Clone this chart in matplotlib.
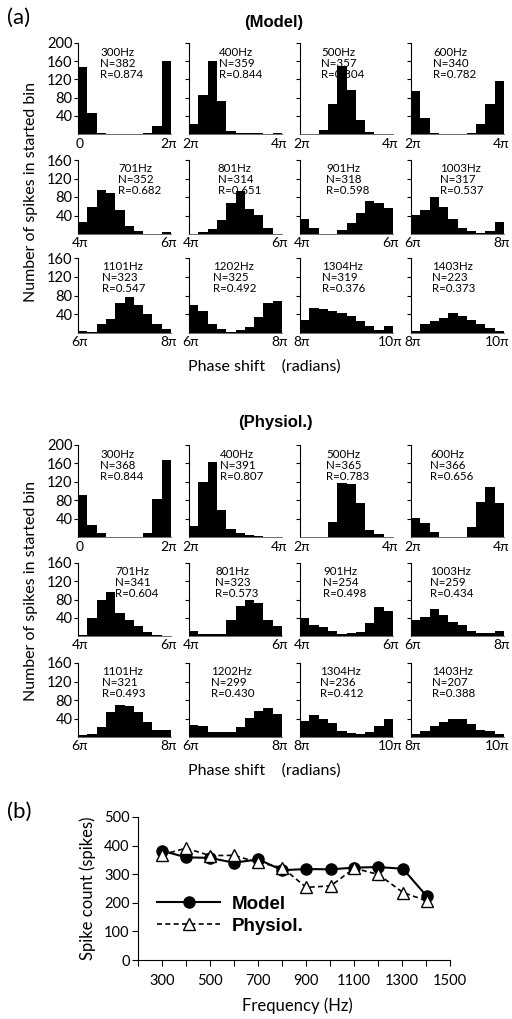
import numpy as np
import matplotlib.pyplot as plt

# ---- data ----
freqs = [300, 400, 500, 600, 701, 801, 901, 1003, 1101, 1202, 1304, 1403]
phase_start = [0, 2, 2, 2, 4, 4, 4, 6, 6, 6, 8, 8]   # in units of pi

model_N = [382, 359, 357, 340, 352, 314, 318, 317, 323, 325, 319, 223]
model_R = ['0.874', '0.844', '0.804', '0.782', '0.682', '0.651',
           '0.598', '0.537', '0.547', '0.492', '0.376', '0.373']
physio_N = [368, 391, 365, 366, 341, 323, 254, 259, 321, 299, 236, 207]
physio_R = ['0.844', '0.807', '0.783', '0.656', '0.604', '0.573',
            '0.498', '0.434', '0.493', '0.430', '0.412', '0.388']

# spikes per bin, 10 bins per histogram
model_hist = [
    [148, 46, 2, 0, 0, 0, 0, 3, 18, 160],
    [23, 86, 160, 73, 7, 2, 2, 2, 1, 3],
    [0, 0, 9, 66, 150, 97, 31, 4, 0, 0],
    [94, 36, 2, 1, 1, 1, 2, 23, 65, 116],
    [26, 58, 96, 88, 52, 17, 6, 1, 1, 5],
    [1, 4, 11, 30, 66, 92, 53, 42, 14, 1],
    [33, 12, 1, 1, 9, 24, 46, 71, 68, 56],
    [41, 51, 79, 58, 32, 13, 6, 2, 7, 27],
    [4, 2, 19, 30, 65, 76, 59, 40, 19, 9],
    [60, 48, 20, 8, 3, 6, 12, 35, 64, 69],
    [28, 53, 52, 46, 42, 36, 25, 14, 7, 16],
    [5, 20, 25, 32, 42, 36, 27, 20, 11, 5],
]
physio_hist = [
    [92, 26, 8, 1, 1, 1, 1, 8, 83, 168],
    [23, 120, 164, 58, 18, 9, 5, 3, 1, 0],
    [0, 0, 1, 33, 118, 116, 74, 16, 7, 0],
    [41, 31, 11, 1, 1, 1, 22, 77, 109, 75],
    [3, 39, 80, 97, 50, 34, 21, 8, 2, 0],
    [12, 4, 4, 4, 34, 66, 79, 73, 36, 23],
    [39, 25, 19, 10, 4, 6, 8, 28, 64, 55],
    [35, 42, 60, 46, 31, 24, 12, 7, 7, 11],
    [5, 7, 21, 54, 69, 67, 55, 32, 16, 15],
    [25, 23, 10, 10, 10, 21, 41, 57, 62, 50],
    [34, 47, 40, 31, 12, 9, 7, 10, 23, 38],
    [7, 12, 23, 33, 39, 38, 28, 16, 12, 7],
]

# ---- layout (pixels) ----
W, H = 512, 1019
fig = plt.figure(figsize=(W / 100, H / 100), dpi=100)
FONT = ['Lato', 'DejaVu Sans']
BOLD = ['Liberation Sans', 'DejaVu Sans']


def add_ax(left, top, width, height):
    return fig.add_axes([left / W, 1 - (top + height) / H, width / W, height / H])


def pi_label(k):
    return '0' if k == 0 else f'{k}\u03c0'


col_left = [78, 189, 300, 411]
col_w = 93
model_rows = [(43, 134), (160, 234), (258, 333)]
physio_rows = [(445, 537), (563, 636), (663, 737)]
model_txt_dx = [22, 30, 21, 22, 40, 29, 26, 29, 24, 24, 22, 21]
physio_txt_dx = [22, 31, 26, 19, 37, 26, 23, 19, 24, 22, 20, 21]


def draw_block(rows, hist, N, R, txt_dx):
    for i in range(12):
        r, c = divmod(i, 4)
        top, bottom = rows[r]
        ax = add_ax(col_left[c], top, col_w, bottom - top)
        ymax = 200 if r == 0 else 160
        ax.bar(np.arange(10), hist[i], width=1, align='edge', color='black')
        ax.set_xlim(0, 10)
        ax.set_ylim(0, ymax)
        for s in ['top', 'right']:
            ax.spines[s].set_visible(False)
        ax.spines['left'].set_linewidth(0.8)
        ax.spines['bottom'].set_linewidth(0.6)
        ax.spines['bottom'].set_color('#555555')
        ax.set_yticks(np.arange(40, ymax + 1, 40))
        ax.tick_params(axis='y', direction='out', length=3, width=0.8,
                       pad=1, labelsize=10.5)
        if c != 0:
            ax.set_yticklabels([])
        else:
            for t in ax.get_yticklabels():
                t.set_family(FONT)
        ax.set_xticks([])
        k = phase_start[i]
        # right-hand label of the last column is pulled in to stay on the page
        right_x, right_ha = (1.06, 'right') if c == 3 else (0.97, 'center')
        ax.text(0.02, -0.04, pi_label(k), transform=ax.transAxes,
                ha='center', va='top', fontsize=10, family=FONT)
        ax.text(right_x, -0.04, pi_label(k + 2), transform=ax.transAxes,
                ha=right_ha, va='top', fontsize=10, family=FONT)
        ax.text(txt_dx[i] / col_w, 0.96,
                f'{freqs[i]}Hz\nN={N[i]}\nR={R[i]}',
                transform=ax.transAxes, ha='left', va='top', fontsize=8.3,
                linespacing=1.0, family=FONT)


draw_block(model_rows, model_hist, model_N, model_R, model_txt_dx)
draw_block(physio_rows, physio_hist, physio_N, physio_R, physio_txt_dx)

fig.text(7 / W, 1 - 18 / H, '(a)', fontsize=16, va='center', family=FONT)
fig.text(274 / W, 1 - 22 / H, '(Model)', fontsize=12, fontweight='bold',
         ha='center', va='center', family=BOLD)
fig.text(275 / W, 1 - 423 / H, '(Physiol.)', fontsize=12, fontweight='bold',
         ha='center', va='center', family=BOLD)
for yc in [192, 591]:
    fig.text(31 / W, 1 - yc / H, 'Number of spikes in started bin',
             rotation=90, ha='center', va='center', fontsize=11.5, family=FONT)
for yc in [367, 771]:
    fig.text(264 / W, 1 - yc / H, 'Phase shift    (radians)', ha='center',
             va='center', fontsize=11.5, family=FONT)

# ---- panel (b) ----
fig.text(7 / W, 1 - 812 / H, '(b)', fontsize=16, va='center', family=FONT)
axb = add_ax(138, 817, 312, 143)
axb.plot(freqs, physio_N, linestyle=(0, (3, 2)), color='black', lw=1.2,
         marker='^', markersize=8, markerfacecolor='white',
         markeredgecolor='black', markeredgewidth=1.0, label='Physiol.',
         zorder=3)
axb.plot(freqs, model_N, '-', color='black', lw=1.5, marker='o',
         markersize=8, label='Model', zorder=2)
axb.set_xlim(200, 1500)
axb.set_ylim(0, 500)
axb.set_xticks(np.arange(300, 1501, 200))
axb.set_xticks(np.arange(200, 1500, 200), minor=True)
axb.set_yticks(np.arange(0, 501, 100))
for s in ['top', 'right']:
    axb.spines[s].set_visible(False)
axb.tick_params(which='both', direction='out', length=4, width=0.8,
                labelsize=10.5, pad=6)
axb.tick_params(axis='y', pad=2)
for t in axb.get_xticklabels() + axb.get_yticklabels():
    t.set_family(FONT)
fig.text(297 / W, 1 - 1006 / H, 'Frequency (Hz)', fontsize=12, family=FONT,
         ha='center', va='center')
axb.set_ylabel('Spike count (spikes)', fontsize=12, family=FONT, labelpad=6)
h, l = axb.get_legend_handles_labels()
axb.legend(h[::-1], l[::-1], loc='upper left', bbox_to_anchor=(0.06, 0.45),
           frameon=False, handlelength=3.4, handletextpad=0.6,
           labelspacing=0.25, borderpad=0, borderaxespad=0,
           prop={'family': BOLD, 'weight': 'bold', 'size': 13.5})

fig.savefig('out.png', dpi=100)
